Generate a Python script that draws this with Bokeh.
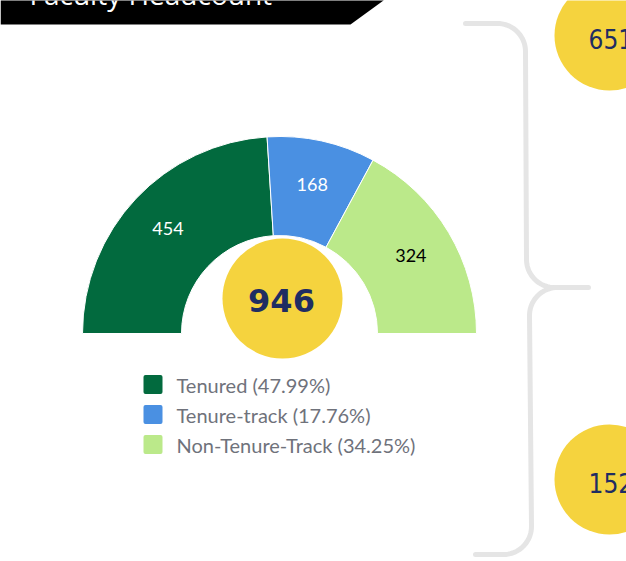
import numpy as np
from bokeh.plotting import figure
from bokeh.models import Range1d, ColumnDataSource
from bokeh.core.properties import value
from bokeh.embed import file_html
from bokeh.resources import INLINE

# ---------------- data ----------------
categories = ["Tenured", "Tenure-track", "Non-Tenure-Track"]
counts = [454, 168, 324]
colors = ["#026a3e", "#4a90e2", "#bbe98a"]
label_colors = ["white", "white", "black"]
total_label = "946"
side_values = ["651", "152"]
title = "Faculty Headcount"

# ---------------- canvas (data units == screen px, y flipped) ----------------
W, H = 626, 561
SH = 561


def Y(sy):
    return SH - sy


p = figure(width=W, height=H, x_range=Range1d(0, W), y_range=Range1d(Y(H), Y(0)),
           output_backend="svg", toolbar_location=None, x_axis_type=None, y_axis_type=None,
           min_border=0, outline_line_color=None, background_fill_color="white",
           border_fill_color="white")
p.grid.visible = False

# ---------------- header banner ----------------
p.patch(x=[0, 383, 383, 350, 0], y=[Y(-20), Y(-20), Y(0), Y(24), Y(24)],
        fill_color="black", line_color=None)
p.text(x=[29], y=[Y(-7)], text=[title], text_color="white", text_font=value("Open Sans"),
       text_font_size="28px", text_baseline="alphabetic", text_align="left")

# ---------------- half donut ----------------
cx, cy = 279, Y(333)
r_in, r_out = 98, 197
tot = sum(counts)
cum = np.cumsum([0] + counts)
starts = np.pi - cum[:-1] / tot * np.pi
ends = np.pi - cum[1:] / tot * np.pi
mids = (starts + ends) / 2
src = ColumnDataSource(dict(start=starts, end=ends, color=colors))
p.annular_wedge(x=cx, y=cy, inner_radius=r_in, outer_radius=r_out, start_angle="start",
                end_angle="end", direction="clock", fill_color="color", line_color="white",
                line_width=1, source=src)

r_lab = 153
p.text(x=cx + r_lab * np.cos(mids), y=cy + r_lab * np.sin(mids), text=[str(c) for c in counts],
       text_color=label_colors, text_font=value("Lato"), text_font_size="18px",
       text_align="center", text_baseline="middle")

# center circle
p.circle(x=[282], y=[Y(298)], radius=60, fill_color="#f5d33e", line_color=None)
p.text(x=[281], y=[Y(300)], text=[total_label], text_color="#1f2d62",
       text_font=value("DejaVu Sans"), text_font_style="bold", text_font_size="32px",
       text_align="center", text_baseline="middle")

# ---------------- legend ----------------
pct = [c / tot * 100 for c in counts]
leg_y = [Y(384 + 30 * i) for i in range(len(categories))]
p.rect(x=[152.5] * 3, y=leg_y, width=19, height=19, fill_color=colors, line_color=None,
       border_radius=2)
p.text(x=[176] * 3, y=leg_y, text=[f"{c} ({v:.2f}%)" for c, v in zip(categories, pct)],
       text_color="#6f727b", text_font=value("Lato"), text_font_size="20px",
       text_align="left", text_baseline="middle")

# ---------------- brace ----------------
def arc(xc, yc, r, a0, a1, n=20):
    t = np.linspace(a0, a1, n)
    return list(xc + r * np.cos(t)), list(yc + r * np.sin(t))

bx, by = [465], [Y(23)]
ax, ay = arc(497, Y(51), 28, np.pi / 2, 0)
bx += ax; by += ay
ax, ay = arc(554, Y(259), 28, np.pi, 3 * np.pi / 2)
bx += ax; by += ay
bx += [588]; by += [Y(287)]
p.line(x=bx, y=by, line_color="#e5e5e5", line_width=5, line_cap="round", line_join="round")

bx2, by2 = [], []
ax, ay = arc(557, Y(315), 28, np.pi / 2, np.pi)
bx2 += ax; by2 += ay
ax, ay = arc(503, Y(526), 28, 0, -np.pi / 2)
bx2 += ax; by2 += ay
bx2 += [475]; by2 += [Y(554)]
p.line(x=bx2, y=by2, line_color="#e5e5e5", line_width=5, line_cap="round", line_join="round")

# ---------------- side circles ----------------
p.circle(x=[609, 609], y=[Y(35), Y(479)], radius=55, fill_color="#f5d33e", line_color=None)
p.text(x=[588, 588], y=[Y(38), Y(482)], text=side_values, text_color="#1f2d62",
       text_font=value("DejaVu Sans Condensed"), text_font_size="26px",
       text_align="left", text_baseline="middle")

open("out.html", "w").write(file_html(p, INLINE))
